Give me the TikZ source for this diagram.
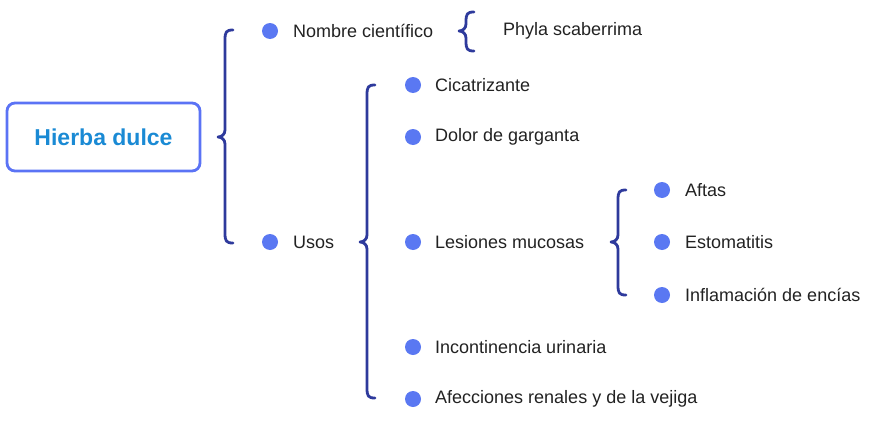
\documentclass[tikz,border=0pt]{standalone}
\usepackage{fontspec}
\setmainfont{Liberation Sans}
\definecolor{bracec}{HTML}{2E3A9C}
\definecolor{dotc}{HTML}{5A78F2}
\definecolor{boxc}{HTML}{5B73F5}
\definecolor{titlec}{HTML}{1A8AD4}
\definecolor{txtc}{HTML}{222222}
\newcommand{\drawbrace}[4]{% x of tip, y top, y bottom, y tip
  \draw[bracestyle] ({#1+15},#2) .. controls ({#1+8},#2) and ({#1+7},{#2+2}) .. ({#1+7},{#2+10})
    -- ({#1+7},{#4-7}) .. controls ({#1+7},{#4-3}) and ({#1+4},#4) .. (#1,#4)
    .. controls ({#1+4},#4) and ({#1+7},{#4+3}) .. ({#1+7},{#4+7})
    -- ({#1+7},{#3-10}) .. controls ({#1+7},{#3-2}) and ({#1+8},#3) .. ({#1+15},#3);}
\begin{document}
\begin{tikzpicture}[x=1pt,y=-1pt,
  bracestyle/.style={draw=bracec,line width=2.8pt,line cap=round,line join=round},
  dot/.style={circle,fill=dotc,minimum size=16pt,inner sep=0pt},
  lbl/.style={anchor=west,text=txtc,font=\fontsize{18}{21}\selectfont,inner sep=0pt}]
\useasboundingbox (0,0) rectangle (873,423);
\node[draw=boxc,line width=2.8pt,rounded corners=8pt,minimum width=193pt,minimum height=68pt,
  text=titlec,font=\bfseries\fontsize{23}{26}\selectfont] (root) at (103.5,137) {Hierba dulce};
\drawbrace{218}{30}{243}{137}
\node[dot] (d1) at (270,31) {};
\node[lbl] (t1) at (293,31) {Nombre científico};
\drawbrace{459}{12}{51}{31}
\node[lbl] (t1a) at (503,31) {Phyla scaberrima};
\node[dot] (d2) at (270,242) {};
\node[lbl] (t2) at (293,242) {Usos};
\drawbrace{360}{85}{398}{242}
\node[dot] (u1) at (413,85) {};
\node[lbl] (v1) at (435,85) {Cicatrizante};
\node[dot] (u2) at (413,137) {};
\node[lbl] (v2) at (435,137) {Dolor de garganta};
\node[dot] (u3) at (413,242) {};
\node[lbl] (v3) at (435,242) {Lesiones mucosas};
\node[dot] (u4) at (413,347) {};
\node[lbl] (v4) at (435,347) {Incontinencia urinaria};
\node[dot] (u5) at (413,399) {};
\node[lbl] (v5) at (435,399) {Afecciones renales y de la vejiga};
\drawbrace{611}{190}{295}{242}
\node[dot] (w1) at (662,190) {};
\node[lbl] (x1) at (685,190) {Aftas};
\node[dot] (w2) at (662,242) {};
\node[lbl] (x2) at (685,242) {Estomatitis};
\node[dot] (w3) at (662,295) {};
\node[lbl] (x3) at (685,295) {Inflamación de encías};
\end{tikzpicture}
\end{document}
